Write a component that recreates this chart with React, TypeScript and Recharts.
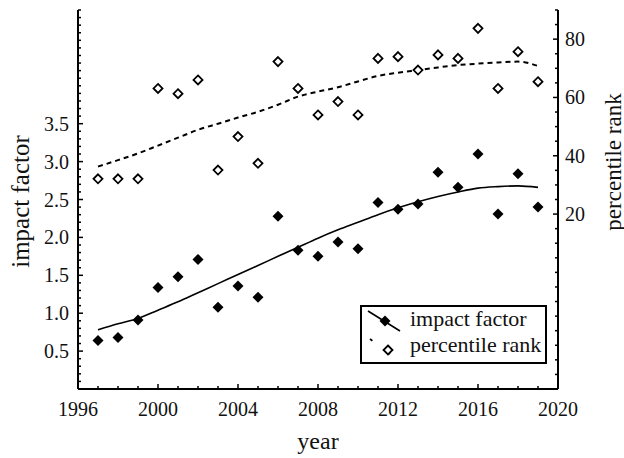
import { ComposedChart, Line, Scatter, XAxis, YAxis } from 'recharts'

const years = [
  1997, 1998, 1999, 2000, 2001, 2002, 2003, 2004, 2005, 2006, 2007, 2008,
  2009, 2010, 2011, 2012, 2013, 2014, 2015, 2016, 2017, 2018, 2019,
]
const impactFactor = [
  0.64, 0.68, 0.91, 1.34, 1.48, 1.71, 1.08, 1.36, 1.21, 2.28, 1.83, 1.75,
  1.94, 1.85, 2.46, 2.37, 2.44, 2.86, 2.66, 3.1, 2.31, 2.84, 2.4,
]
const percentileRank = [
  32.1, 32.1, 32.1, 63.1, 61.3, 66, 35.1, 46.6, 37.4, 72.3, 63.1, 54,
  58.6, 54, 73.4, 74, 69.4, 74.6, 73.4, 83.7, 63.1, 75.7, 65.4,
]
// fitted trend curves
const impactFit = [
  0.78, 0.86, 0.93, 1.04, 1.15, 1.27, 1.39, 1.51, 1.63, 1.75, 1.87, 1.99,
  2.1, 2.2, 2.3, 2.39, 2.47, 2.54, 2.6, 2.65, 2.67, 2.68, 2.66,
]
const percentileFit = [
  36.3, 38.5, 40.8, 43.5, 46.2, 48.9, 51, 53.1, 55.1, 57.5, 60.3, 62,
  63.5, 65.5, 67.4, 68.5, 69.4, 70.3, 71.1, 71.6, 72, 72.3, 70.8,
]

const yearTicks = Array.from({ length: 25 }, (_, i) => 1996 + i)
const yearLabels = [1996, 2000, 2004, 2008, 2012, 2016, 2020]
const impactTicks = Array.from({ length: 51 }, (_, i) => i / 10)
const impactLabels = [0.5, 1, 1.5, 2, 2.5, 3, 3.5]
const rankTicks = Array.from({ length: 27 }, (_, i) => -40 + i * 5)
const rankLabels = [20, 40, 60, 80]

const data = years.map((year, i) => ({
  year,
  impact: impactFactor[i],
  rank: percentileRank[i],
  impactFit: impactFit[i],
  rankFit: percentileFit[i],
}))

const serif = (size: number) => ({ fontFamily: "'Liberation Serif', serif", fontSize: size, fill: '#111' })

function YearTick({ x, y, payload }: any) {
  const major = yearLabels.includes(payload.value)
  return (
    <g>
      <line x1={x} x2={x} y1={y} y2={y - (major ? 5 : 3)} stroke="#000" strokeWidth={1.5} />
      {major && (
        <text x={x} y={y + 27} textAnchor="middle" style={serif(20)}>
          {payload.value}
        </text>
      )}
    </g>
  )
}

function ImpactTick({ x, y, payload }: any) {
  const major = impactLabels.some((v) => Math.abs(v - payload.value) < 1e-6)
  return (
    <g>
      <line x1={x} x2={x + (major ? 5 : 3)} y1={y} y2={y} stroke="#000" strokeWidth={1.5} />
      {major && (
        <text x={x - 9} y={y + 7} textAnchor="end" style={serif(20)}>
          {payload.value.toFixed(1)}
        </text>
      )}
    </g>
  )
}

function RankTick({ x, y, payload }: any) {
  const major = rankLabels.includes(payload.value)
  return (
    <g>
      <line x1={x} x2={x - (major ? 5 : 3)} y1={y} y2={y} stroke="#000" strokeWidth={1.5} />
      {major && (
        <text x={x + 7} y={y + 7} textAnchor="start" style={serif(20)}>
          {payload.value}
        </text>
      )}
    </g>
  )
}

function Diamond({ cx, cy, filled }: any) {
  if (cx == null || cy == null) return null
  const r = filled ? 5.5 : 4.5
  const pts = `${cx},${cy - r} ${cx + r},${cy} ${cx},${cy + r} ${cx - r},${cy}`
  return filled ? (
    <polygon points={pts} fill="#000" />
  ) : (
    <polygon points={pts} fill="#fff" stroke="#000" strokeWidth={1.8} />
  )
}

function LegendBox() {
  return (
    <svg width={187} height={59} style={{ position: 'absolute', left: 360, top: 305 }}>
      <rect x={1} y={1} width={185} height={57} fill="#fff" stroke="#000" strokeWidth={2} />
      <line x1={8} y1={6} x2={40} y2={26} stroke="#000" strokeWidth={1.6} />
      <Diamond cx={25} cy={16} filled />
      <line x1={10} y1={34} x2={38} y2={55} stroke="#000" strokeWidth={1.8} strokeDasharray="3 19" />
      <Diamond cx={28} cy={45} />
      <text x={50} y={21} style={serif(22)}>impact factor</text>
      <text x={50} y={47} style={serif(22)}>percentile rank</text>
    </svg>
  )
}

export default function App() {
  return (
    <div style={{ position: 'absolute', left: 0, top: 0, width: 624, height: 458, background: '#fff' }}>
      <ComposedChart width={624} height={458} data={data} margin={{ top: 10, right: 0, bottom: 0, left: 0 }}>
        <XAxis
          dataKey="year"
          type="number"
          domain={[1996, 2020]}
          ticks={yearTicks}
          interval={0}
          height={69}
          tickSize={0}
          tickMargin={0}
          tickLine={false}
          axisLine={{ stroke: '#000', strokeWidth: 2 }}
          tick={<YearTick />}
          label={({ viewBox }: any) => (
            <text x={viewBox.x + viewBox.width / 2} y={viewBox.y + 60} textAnchor="middle" style={serif(24)}>
              year
            </text>
          )}
        />
        <YAxis
          yAxisId="left"
          orientation="left"
          type="number"
          domain={[0, 5]}
          ticks={impactTicks}
          interval={0}
          width={78}
          tickSize={0}
          tickMargin={0}
          tickLine={false}
          axisLine={{ stroke: '#000', strokeWidth: 2 }}
          tick={<ImpactTick />}
          label={({ viewBox }: any) => {
            const cx = viewBox.x + 20
            const cy = viewBox.y + viewBox.height / 2 + 2
            return (
              <text
                x={cx}
                y={cy}
                transform={`rotate(-90, ${cx}, ${cy})`}
                textAnchor="middle"
                dominantBaseline="central"
                style={serif(25)}
              >
                impact factor
              </text>
            )
          }}
        />
        <YAxis
          yAxisId="right"
          orientation="right"
          type="number"
          domain={[-40, 90]}
          ticks={rankTicks}
          interval={0}
          width={66}
          tickSize={0}
          tickMargin={0}
          tickLine={false}
          axisLine={{ stroke: '#000', strokeWidth: 2 }}
          tick={<RankTick />}
          label={({ viewBox }: any) => {
            const cx = viewBox.x + 55
            const cy = viewBox.y + 152
            return (
              <text
                x={cx}
                y={cy}
                transform={`rotate(-90, ${cx}, ${cy})`}
                textAnchor="middle"
                dominantBaseline="central"
                style={serif(23)}
              >
                percentile rank
              </text>
            )
          }}
        />
        <Line
          yAxisId="left"
          dataKey="impactFit"
          type="monotone"
          stroke="#000"
          strokeWidth={1.6}
          dot={false}
          activeDot={false}
          isAnimationActive={false}
        />
        <Line
          yAxisId="right"
          dataKey="rankFit"
          type="monotone"
          stroke="#000"
          strokeWidth={2}
          strokeDasharray="5 4"
          dot={false}
          activeDot={false}
          isAnimationActive={false}
        />
        <Scatter
          yAxisId="left"
          dataKey="impact"
          shape={(p: any) => <Diamond cx={p.cx} cy={p.cy} filled />}
          isAnimationActive={false}
        />
        <Scatter
          yAxisId="right"
          dataKey="rank"
          shape={(p: any) => <Diamond cx={p.cx} cy={p.cy} />}
          isAnimationActive={false}
        />
      </ComposedChart>
      <LegendBox />
    </div>
  )
}
